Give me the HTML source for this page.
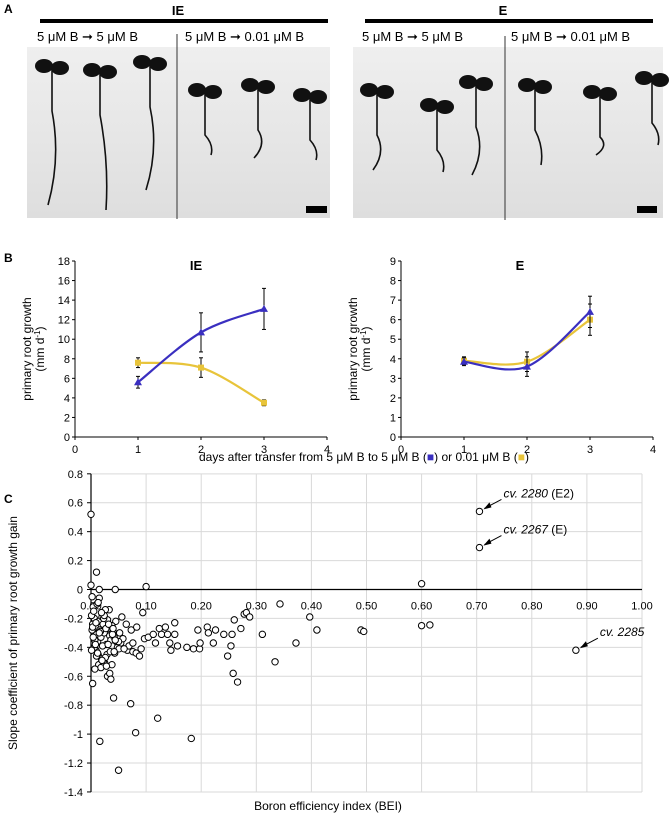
<!DOCTYPE html>
<html><head><meta charset="utf-8">
<style>
html,body{margin:0;padding:0;background:#fff;}
svg{display:block;font-family:"Liberation Sans",sans-serif;}
</style></head>
<body>
<svg id="fig" width="670" height="816" viewBox="0 0 670 816" xmlns="http://www.w3.org/2000/svg">
<!-- Panel A -->
<g>
<text x="4" y="13" font-size="12" font-weight="bold">A</text>
<rect x="40" y="19" width="288" height="4" fill="#000"/>
<text x="178" y="15" font-size="13" font-weight="bold" text-anchor="middle">IE</text>
<rect x="365" y="19" width="288" height="4" fill="#000"/>
<text x="503" y="15" font-size="13" font-weight="bold" text-anchor="middle">E</text>
<g font-size="13">
<text x="37" y="41">5 μM B ➞  5 μM B</text>
<text x="185" y="41">5 μM B ➞ 0.01 μM B</text>
<text x="362" y="41">5 μM B ➞  5 μM B</text>
<text x="511" y="41">5 μM B ➞ 0.01 μM B</text>
</g>
<defs><linearGradient id="pg" x1="0" y1="0" x2="0" y2="1"><stop offset="0" stop-color="#efefef"/><stop offset="1" stop-color="#dedede"/></linearGradient></defs>
<rect x="27" y="47" width="303" height="171" fill="url(#pg)"/>
<rect x="353" y="47" width="310" height="171" fill="url(#pg)"/>
<line x1="177" y1="34" x2="177" y2="219" stroke="#333" stroke-width="1"/>
<line x1="505" y1="36" x2="505" y2="220" stroke="#333" stroke-width="1"/>
<rect x="306" y="206" width="21" height="7" fill="#000"/>
<rect x="637" y="206" width="20" height="7" fill="#000"/>
<g id="seedlings" fill="#111" stroke="#111"></g>
</g>
<!-- Panel B -->
<g>
<text x="4" y="262" font-size="12" font-weight="bold">B</text>
<g id="chartB1"></g>
<g id="chartB2"></g>
<text x="364" y="461" font-size="12" text-anchor="middle">days after transfer from 5 μM B to 5 μM B (<tspan fill="#3a2fc0">■</tspan>) or 0.01 μM B (<tspan fill="#e8c43a">■</tspan>)</text>
</g>
<!-- Panel C -->
<g>
<text x="4" y="503" font-size="12" font-weight="bold">C</text>
<g id="chartC"></g>
</g>
</svg>
<script>
// ===== Panel B data =====
const bDays = [1, 2, 3];
const ieBlue = [5.6, 10.7, 13.1];
const ieBlueErr = [0.6, 2.0, 2.1];
const ieYellow = [7.6, 7.1, 3.5];
const ieYellowErr = [0.5, 1.0, 0.3];
const eBlue = [3.85, 3.6, 6.4];
const eBlueErr = [0.2, 0.5, 0.8];
const eYellow = [3.9, 3.85, 6.0];
const eYellowErr = [0.2, 0.5, 0.8];
const ieYTicks = [0, 2, 4, 6, 8, 10, 12, 14, 16, 18];
const eYTicks = [0, 1, 2, 3, 4, 5, 6, 7, 8, 9];
const bXTicks = [0, 1, 2, 3, 4];

// ===== Panel C data =====
const beiX = [0,0.01,0.0,0.015,0.044,0.10,0.056,0.045,0.033,0.064,0.073,0.083,0.094,0.097,0.104,0.113,0.117,0.124,0.128,0.135,0.139,0.143,0.145,0.152,0.152,0.157,0.174,0.186,0.194,0.197,0.198,0.211,0.213,0.222,0.226,0.241,0.248,0.254,0.256,0.258,0.26,0.266,0.272,0.278,0.282,0.288,0.311,0.334,0.343,0.372,0.397,0.41,
0.041,0.072,0.081,0.121,0.182,0.016,0.05,0.003,0.066,0.076,0.082,0.088,0.091,0.069,0.076,
0.002,0.004,0.006,0.008,0.01,0.012,0.014,0.016,0.018,0.02,0.022,0.024,0.026,0.028,0.03,0.032,0.034,0.036,0.038,0.04,0.042,0.046,0.048,0.052,0.054,0.058,
0.001,0.003,0.005,0.007,0.009,0.011,0.013,0.015,0.017,0.019,0.021,0.023,0.025,0.027,0.029,0.031,0.035,0.039,0.043,0.047,0.051,
0.002,0.006,0.01,0.014,0.018,0.022,0.026,0.03,0.034,0.038,0.042,0.05,0.06,
0.004,0.008,0.012,0.02,0.028,0.036,0.044,0.003,0.009,0.015,0.024,0.032,0.04,0.001,0.007,0.013,0.019,
0.49,0.495,0.60,0.60,0.615,0.705,0.705,0.88];
const beiSlope = [0.52,0.12,0.03,0.0,0.0,0.02,-0.19,-0.22,-0.14,-0.24,-0.28,-0.26,-0.16,-0.34,-0.33,-0.31,-0.37,-0.27,-0.31,-0.26,-0.31,-0.37,-0.42,-0.23,-0.31,-0.39,-0.40,-0.41,-0.28,-0.41,-0.37,-0.26,-0.30,-0.37,-0.28,-0.31,-0.46,-0.39,-0.31,-0.58,-0.21,-0.64,-0.27,-0.17,-0.16,-0.19,-0.31,-0.50,-0.10,-0.37,-0.19,-0.28,
-0.75,-0.79,-0.99,-0.89,-1.03,-1.05,-1.25,-0.65,-0.42,-0.43,-0.44,-0.46,-0.41,-0.39,-0.37,
-0.05,-0.12,-0.2,-0.26,-0.31,-0.36,-0.22,-0.28,-0.33,-0.19,-0.24,-0.30,-0.14,-0.38,-0.21,-0.27,-0.32,-0.35,-0.25,-0.29,-0.33,-0.36,-0.40,-0.30,-0.37,-0.34,
-0.18,-0.24,-0.15,-0.35,-0.42,-0.10,-0.45,-0.06,-0.29,-0.48,-0.39,-0.20,-0.51,-0.27,-0.45,-0.38,-0.43,-0.31,-0.44,-0.36,-0.41,
-0.28,-0.40,-0.46,-0.52,-0.54,-0.50,-0.47,-0.60,-0.58,-0.52,-0.43,-0.36,-0.41,
-0.33,-0.38,-0.44,-0.49,-0.53,-0.62,-0.35,-0.26,-0.23,-0.30,-0.18,-0.24,-0.27,-0.42,-0.55,-0.09,-0.16,
-0.28,-0.29,0.04,-0.25,-0.245,0.54,0.29,-0.42];
const cXTicks = [0,0.1,0.2,0.3,0.4,0.5,0.6,0.7,0.8,0.9,1.0];
const cXTickLabels = ["0.00","0.10","0.20","0.30","0.40","0.50","0.60","0.70","0.80","0.90","1.00"];
const cYTicks = [0.8,0.6,0.4,0.2,0,-0.2,-0.4,-0.6,-0.8,-1,-1.2,-1.4];
const cYTickLabels = ["0.8","0.6","0.4","0.2","0","-0.2","-0.4","-0.6","-0.8","-1","-1.2","-1.4"];
const cAnnotX = [0.705, 0.705, 0.88];
const cAnnotY = [0.54, 0.29, -0.42];
const cAnnotName = ["cv. 2280", "cv. 2267", "cv. 2285"];
const cAnnotSuffix = [" (E2)", " (E)", ""];

const NS = "http://www.w3.org/2000/svg";
function mk(tag, attrs, parent){const e=document.createElementNS(NS,tag);for(const k in attrs)e.setAttribute(k,attrs[k]);parent.appendChild(e);return e;}

// ===== seedlings (decorative photo content) =====
(function(){
  const g=document.getElementById('seedlings');
  const s=[[52,66,205],[100,70,210],[150,62,190],[205,90,155],[258,85,158],[310,95,160],[377,90,170],[437,105,172],[476,82,175],[535,85,165],[600,92,155],[652,78,145]];
  s.forEach(function(p,i){
    const x=p[0],top=p[1],bot=p[2];
    const st=mk('path',{d:'M'+x+' '+top+' L'+x+' '+(top+45)+' Q'+(x+9)+' '+((top+45+bot)/2)+' '+(x+(i%2?6:-4))+' '+bot,fill:'none','stroke-width':1.6},g);
    
    
    const c1=mk('ellipse',{cx:x-8,cy:top,rx:9,ry:7,stroke:'none'},g);
    
    
    const c2=mk('ellipse',{cx:x+8,cy:top+2,rx:9,ry:7,stroke:'none'},g);
    
    
  });
})();

// ===== Panel B charts =====
function spline(pts){
  let d='M'+pts[0][0]+' '+pts[0][1];
  for(let i=0;i<pts.length-1;i++){
    const p0=pts[Math.max(i-1,0)],p1=pts[i],p2=pts[i+1],p3=pts[Math.min(i+2,pts.length-1)];
    const c1x=p1[0]+(p2[0]-p0[0])/6,c1y=p1[1]+(p2[1]-p0[1])/6;
    const c2x=p2[0]-(p3[0]-p1[0])/6,c2y=p2[1]-(p3[1]-p1[1])/6;
    d+=' C'+c1x+' '+c1y+' '+c2x+' '+c2y+' '+p2[0]+' '+p2[1];
  }
  return d;
}
function drawB(id, x0, ymax, yTicks, blue, blueErr, yellow, yellowErr, title, titleX){
  const g=document.getElementById(id);
  const xs=function(v){return x0+v*63;};
  const ys=function(v){return 437-v/ymax*176;};
  mk('line',{x1:x0,y1:ys(0),x2:xs(4),y2:ys(0),stroke:'#000','stroke-width':1},g);
  mk('line',{x1:x0,y1:ys(0),x2:x0,y2:ys(ymax),stroke:'#000','stroke-width':1},g);
  yTicks.forEach(function(t){
    mk('line',{x1:x0-3,y1:ys(t),x2:x0,y2:ys(t),stroke:'#000'},g);
    const tx=mk('text',{x:x0-5,y:ys(t)+4,'font-size':11,'text-anchor':'end'},g);
    tx.textContent=t;
    
    
  });
  bXTicks.forEach(function(t){
    mk('line',{x1:xs(t),y1:ys(0),x2:xs(t),y2:ys(0)+3,stroke:'#000'},g);
    const tx=mk('text',{x:xs(t),y:ys(0)+16,'font-size':11,'text-anchor':'middle'},g);
    tx.textContent=t;
    
    
  });
  const tt=mk('text',{x:titleX,y:270,'font-size':13,'font-weight':'bold','text-anchor':'middle'},g);
  tt.textContent=title;
  
  
  const yl=mk('text',{transform:'translate('+(x0-44)+' 349) rotate(-90)','font-size':12,'text-anchor':'middle'},g);
  yl.textContent='primary root growth';
  
  
  const yl2=mk('text',{transform:'translate('+(x0-31)+' 349) rotate(-90)','font-size':12,'text-anchor':'middle'},g);
  yl2.innerHTML='(mm d<tspan baseline-shift="super" font-size="8">-1</tspan>)';
  
  
  [[yellow,yellowErr,'#e8c43a','yellow'],[blue,blueErr,'#3a2fc0','blue']].forEach(function(s){
    const vals=s[0],err=s[1],col=s[2];
    const pts=bDays.map(function(d,i){return [xs(d),ys(vals[i])];});
    const ln=mk('path',{d:spline(pts),fill:'none',stroke:col,'stroke-width':2.2},g);
    
    
    bDays.forEach(function(d,i){
      const eb=mk('line',{x1:xs(d),y1:ys(vals[i]-err[i]),x2:xs(d),y2:ys(vals[i]+err[i]),stroke:'#000','stroke-width':1},g);
      
      
      mk('line',{x1:xs(d)-2,y1:ys(vals[i]-err[i]),x2:xs(d)+2,y2:ys(vals[i]-err[i]),stroke:'#000'},g);
      mk('line',{x1:xs(d)-2,y1:ys(vals[i]+err[i]),x2:xs(d)+2,y2:ys(vals[i]+err[i]),stroke:'#000'},g);
      let m;
      if(s[3]==='blue') m=mk('path',{d:'M'+xs(d)+' '+(ys(vals[i])-4)+' l4 7 l-8 0z',fill:col},g);
      else m=mk('rect',{x:xs(d)-3,y:ys(vals[i])-3,width:6,height:6,fill:col},g);
      
      
    });
  });
}
drawB('chartB1',75,18,ieYTicks,ieBlue,ieBlueErr,ieYellow,ieYellowErr,'IE',196);
drawB('chartB2',401,9,eYTicks,eBlue,eBlueErr,eYellow,eYellowErr,'E',520);

// ===== Panel C chart =====
(function(){
  const g=document.getElementById('chartC');
  const xs=function(v){return 91+v*551;};
  const ys=function(v){return 589.5-v*144.6;};
  cXTicks.forEach(function(t){
    if(t>0){const gl=mk('line',{x1:xs(t),y1:ys(0.8),x2:xs(t),y2:ys(-1.4),stroke:'#d9d9d9','stroke-width':1},g);
    
    }
  });
  cYTicks.forEach(function(t,i){
    const gl=mk('line',{x1:xs(0),y1:ys(t),x2:xs(1),y2:ys(t),stroke:'#d9d9d9','stroke-width':1},g);
    
    
    mk('line',{x1:xs(0)-4,y1:ys(t),x2:xs(0),y2:ys(t),stroke:'#000'},g);
    const tx=mk('text',{x:xs(0)-8,y:ys(t)+4,'font-size':11,'text-anchor':'end'},g);
    tx.textContent=cYTickLabels[i];
    
    
  });
  mk('line',{x1:xs(0),y1:ys(0.8),x2:xs(0),y2:ys(-1.4),stroke:'#000','stroke-width':1.2},g);
  mk('line',{x1:xs(0),y1:ys(0),x2:xs(1),y2:ys(0),stroke:'#000','stroke-width':1.2},g);
  cXTicks.forEach(function(t,i){
    const tx=mk('text',{x:xs(t),y:ys(0)+20,'font-size':11,'text-anchor':'middle'},g);
    tx.textContent=cXTickLabels[i];
    
    
  });
  beiX.forEach(function(x,i){
    const c=mk('circle',{cx:xs(x),cy:ys(beiSlope[i]),r:3.2,fill:'#fff',stroke:'#000','stroke-width':1},g);
    
    
  });
  cAnnotX.forEach(function(x,i){
    const px=xs(x),py=ys(cAnnotY[i]);
    const ar=mk('path',{d:'M'+(px+22)+' '+(py-12)+' L'+(px+5)+' '+(py-3),stroke:'#000','stroke-width':1,fill:'none'},g);
    
    
    mk('path',{d:'M'+(px+4)+' '+(py-2)+' l6 -7 l2 5z',fill:'#000'},g);
    const tx=mk('text',{x:px+24,y:py-14,'font-size':12},g);
    tx.innerHTML='<tspan font-style="italic">'+cAnnotName[i]+'</tspan>'+cAnnotSuffix[i];
    
    
  });
  const yl=mk('text',{transform:'translate(17 633) rotate(-90)','font-size':12,'text-anchor':'middle'},g);
  yl.textContent='Slope coefficient of primary root growth gain';
  
  
  const xl=mk('text',{x:328,y:810,'font-size':12,'text-anchor':'middle'},g);
  xl.textContent='Boron efficiency index (BEI)';
  
  
})();
</script>
</body></html>
